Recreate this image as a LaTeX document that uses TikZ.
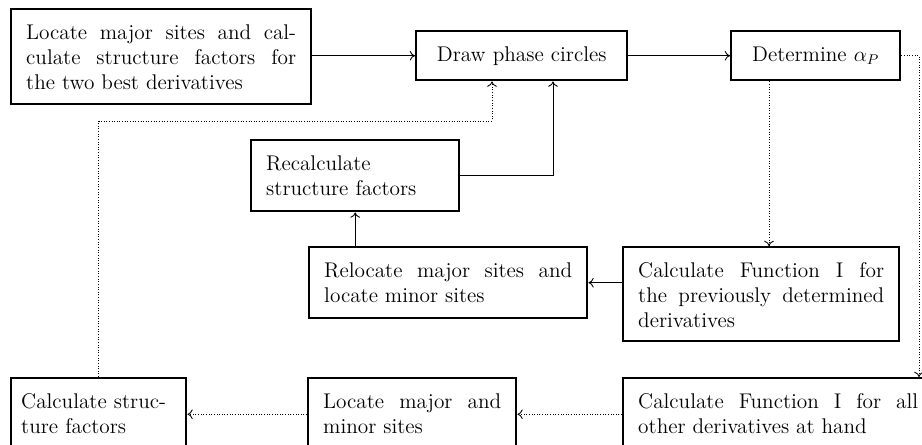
\documentclass[tikz,border=0pt]{standalone}
\usetikzlibrary{arrows.meta}
\tikzstyle{stagestyle}=[draw, line width=1.4pt, anchor=north west, inner xsep=0.3cm, inner ysep=0.3cm,
  text height=0.3cm, align=justify, font=\fontsize{12.1}{14.2}\selectfont]
\tikzset{stage/.style 2 args={stagestyle, text width=#1, text depth=#2}}
\tikzstyle{flow}=[draw, line width=0.5pt, -{To[length=3pt,width=5.5pt]}]
\tikzstyle{flowdot}=[flow, densely dotted]

\begin{document}
\begin{tikzpicture}[x=0.02cm, y=-0.02cm]
\useasboundingbox (0,0) rectangle (922,444);
\clip (0,0) rectangle (922,444);

% Draw the stages
\path (10,8)    node (locate)   [stage={5.4cm}{1.0cm}]
  {Locate major sites and cal-\linebreak culate structure factors for\linebreak the two best derivatives};
\path (415,30)  node (phase)    [stage={3.62cm}{0.08cm}, align=center] {Draw phase circles};
\path (730,30)  node (alpha)    [stage={2.78cm}{0.08cm}, align=center] {Determine $\alpha_P$};
\path (250,139) node (recalc)   [stage={3.56cm}{0.52cm}, align=left] {Recalculate\\structure factors};
\path (308,246) node (relocate) [stage={4.96cm}{0.52cm}]
  {Relocate major sites and\linebreak locate minor sites};
\path (622,246) node (funcprev) [stage={4.92cm}{0.98cm}]
  {Calculate Function I for\linebreak the previously determined\linebreak derivatives};
\path (10,377)  node (calcsf)   [stage={3.1cm}{0.54cm}, inner xsep=0.2cm, align=left]
  {Calculate struc-\\ture factors};
\path (307,377) node (locmin)   [stage={3.56cm}{0.54cm}] {Locate major and\linebreak minor sites};
\path (622,377) node (funcall)  [stage={5.6cm}{0.54cm}]
  {Calculate Function I for all\linebreak other derivatives at hand};

% Turning points of the connectors
\coordinate (rightdrop) at (919,0);
\coordinate (alphadrop) at (769,0);
\coordinate (recalcup) at (553,0);
\coordinate (feedback) at (492,121);

% Draw arrows between stages
\draw[flow] (locate.east |- phase.west) -- (phase.west);
\draw[flow] (phase.east) -- (alpha.west);
\draw[flowdot] (alpha.east) -| (rightdrop |- funcall.north);
\draw[flowdot] (alphadrop |- alpha.south) -- (alphadrop |- funcprev.north);
\draw[flow] (funcprev.west |- relocate.east) -- (relocate.east);
\draw[flow] (recalc.south |- relocate.north) -- (recalc.south);
\draw[flow] (recalc.east) -| (recalcup |- phase.south);
\draw[flowdot] (calcsf.north) |- (feedback) -- (feedback |- phase.south);
\draw[flowdot] (funcall.west) -- (locmin.east);
\draw[flowdot] (locmin.west) -- (calcsf.east);
\end{tikzpicture}
\end{document}
